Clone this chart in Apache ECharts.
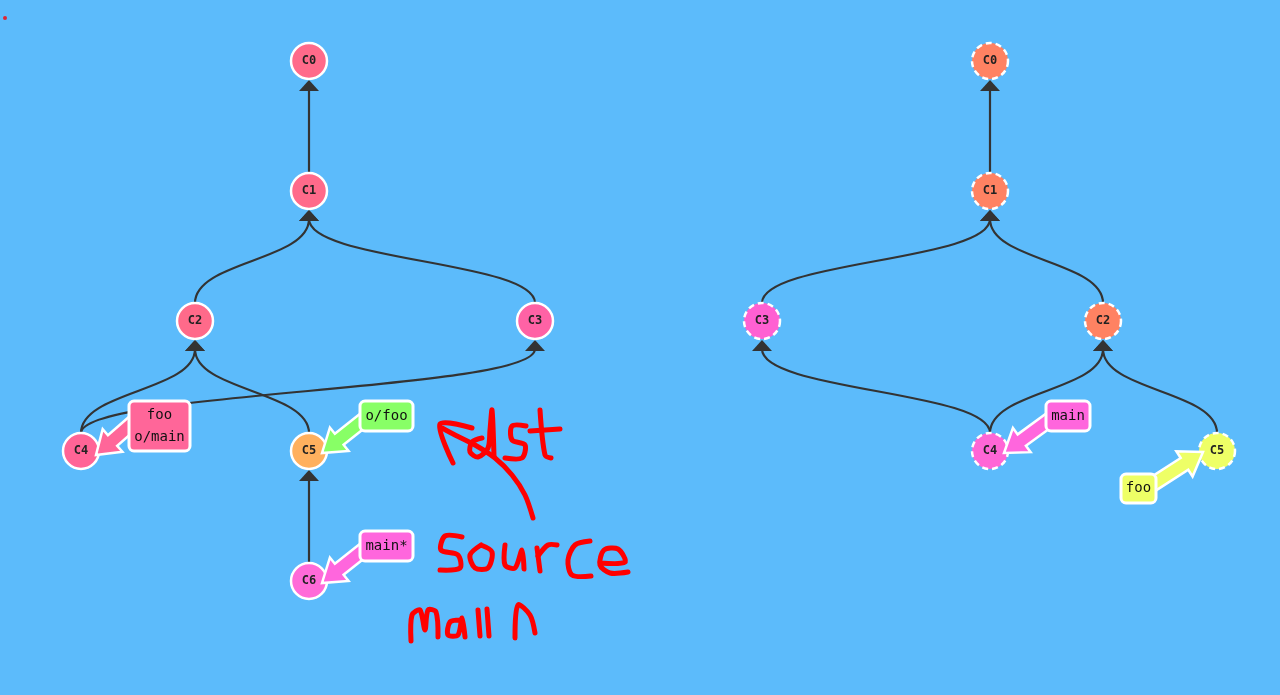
<!DOCTYPE html>
<html lang="en">
<head>
  <meta charset="UTF-8">
  <title>Git tree</title>
  <script src="https://cdn.jsdelivr.net/npm/echarts@6/dist/echarts.min.js"></script>
  <style>
    html, body { margin: 0; padding: 0; background: #5cbbfb; }
    #tree { width: 1280px; height: 695px; }
  </style>
</head>
<body>
  <div id="tree"></div>
</body>
<script>
  // commits: [name, x, y, fill, dashed]
  const commits = [
    ['C0', 309, 61, '#ff6a8a', 0], ['C1', 309, 191, '#ff6a8a', 0],
    ['C2', 195, 321, '#ff6a8a', 0], ['C3', 535, 321, '#ff62a5', 0],
    ['C4', 81, 451, '#ff6496', 0], ['C5', 309, 451, '#ffb05e', 0],
    ['C6', 309, 581, '#ff6ad8', 0],
    ['C0', 990, 61, '#ff8262', 1], ['C1', 990, 191, '#ff8262', 1],
    ['C3', 762, 321, '#ff60d2', 1], ['C2', 1103, 321, '#ff8262', 1],
    ['C4', 990, 451, '#ff66d6', 1], ['C5', 1217, 451, '#eeff66', 1]
  ];
  // parent links: [childX, childY, parentX, parentY]
  const links = [
    [309, 191, 309, 61], [195, 321, 309, 191], [535, 321, 309, 191],
    [81, 451, 195, 321], [81, 451, 535, 321], [309, 451, 195, 321],
    [309, 581, 309, 451],
    [990, 191, 990, 61], [762, 321, 990, 191], [1103, 321, 990, 191],
    [990, 451, 762, 321], [990, 451, 1103, 321], [1217, 451, 1103, 321]
  ];
  // branches: [text, boxX0, boxY0, boxX1, boxY1, fill, arrowFromX, arrowFromY, tipX, tipY]
  const branches = [
    ['foo\no/main', 129, 401, 190, 451, '#ff6699', 136, 420, 96, 455],
    ['o/foo', 360, 401, 413, 431, '#88ff66', 366, 418, 322, 453],
    ['main*', 360, 531, 413, 561, '#ff66dd', 366, 548, 322, 583],
    ['main', 1046, 401, 1090, 431, '#ff66dd', 1052, 418, 1004, 453],
    ['foo', 1121, 474, 1156, 503, '#eeff66', 1150, 486, 1203, 452]
  ];
  // hand drawn red strokes
  const strokes = [
    [[533,518],[525,495],[512,475],[495,458],[475,445],[455,435],[442,428]],
    [[472,428],[440,424],[453,463]],
    [[482,438],[472,442],[470,452],[478,457],[488,448],[490,430],[492,410],[494,456]],
    [[526,426],[512,426],[512,440],[525,445],[522,458],[505,458]],
    [[540,410],[545,455],[551,458]], [[530,431],[560,429]],
    [[462,537],[445,536],[441,550],[458,555],[460,568],[440,570]],
    [[481,545],[470,555],[475,568],[488,568],[492,552],[481,545]],
    [[505,545],[505,565],[515,568],[522,550],[524,569]],
    [[537,548],[540,571]], [[538,556],[548,545],[557,545]],
    [[590,541],[575,545],[568,560],[572,575],[591,576]],
    [[600,563],[625,562],[618,549],[604,550],[600,565],[610,573],[628,572]],
    [[411,641],[412,615],[420,610],[425,630],[428,610],[436,612],[438,637]],
    [[461,620],[450,622],[448,635],[458,635],[462,618],[465,637]],
    [[478,610],[480,636]], [[487,609],[489,636]],
    [[515,638],[518,605],[530,615],[535,633]]
  ];

  const chart = echarts.init(document.getElementById('tree'));
  const P = (api, x, y) => api.coord([x, y]);

  chart.setOption({
    backgroundColor: '#5cbbfb',
    animation: false,
    grid: { left: 0, right: 0, top: 0, bottom: 0 },
    xAxis: { type: 'value', min: 0, max: 1280, show: false },
    yAxis: { type: 'value', min: 0, max: 695, inverse: true, show: false },
    series: [
      {
        type: 'custom',
        data: links,
        renderItem: function (params, api) {
          const c = P(api, api.value(0), api.value(1) - 18);
          const p = P(api, api.value(2), api.value(3) + 28);
          const tip = P(api, api.value(2), api.value(3) + 19);
          const my = (c[1] + p[1]) / 2;
          return {
            type: 'group',
            children: [
              {
                type: 'bezierCurve',
                shape: { x1: c[0], y1: c[1], cpx1: c[0], cpy1: my, cpx2: p[0], cpy2: my, x2: p[0], y2: p[1] },
                style: { stroke: '#333', lineWidth: 2.2, fill: null }
              },
              {
                type: 'polygon',
                shape: { points: [tip, [tip[0] - 10, tip[1] + 11], [tip[0] + 10, tip[1] + 11]] },
                style: { fill: '#333' }
              }
            ]
          };
        }
      },
      {
        type: 'custom',
        data: commits.map(c => [c[1], c[2], c[0], c[3], c[4]]),
        renderItem: function (params, api) {
          const pt = P(api, api.value(0), api.value(1));
          const item = commits[params.dataIndex];
          return {
            type: 'group',
            children: [
              {
                type: 'circle',
                shape: { cx: pt[0], cy: pt[1], r: 18 },
                style: { fill: item[3], stroke: '#fff', lineWidth: 2.5, lineDash: item[4] ? [6, 4] : null }
              },
              {
                type: 'text',
                style: { x: pt[0], y: pt[1], text: item[0], align: 'center', verticalAlign: 'middle',
                  font: 'bold 12px "DejaVu Sans Mono", monospace', fill: '#222' }
              }
            ]
          };
        }
      },
      {
        type: 'custom',
        data: branches.map(b => b.slice(1, 5).concat(b.slice(6))),
        renderItem: function (params, api) {
          const b = branches[params.dataIndex];
          const a = P(api, b[6], b[7]);
          const t = P(api, b[8], b[9]);
          const dx = t[0] - a[0], dy = t[1] - a[1];
          const L = Math.hypot(dx, dy), ux = dx / L, uy = dy / L, nx = -uy, ny = ux;
          const hb = [t[0] - ux * 22, t[1] - uy * 22];
          const pts = [
            [a[0] + nx * 7, a[1] + ny * 7], [hb[0] + nx * 7, hb[1] + ny * 7], [hb[0] + nx * 15, hb[1] + ny * 15],
            t,
            [hb[0] - nx * 15, hb[1] - ny * 15], [hb[0] - nx * 7, hb[1] - ny * 7], [a[0] - nx * 7, a[1] - ny * 7]
          ];
          const p0 = P(api, b[1], b[2]);
          const p1 = P(api, b[3], b[4]);
          return {
            type: 'group',
            children: [
              { type: 'polygon', shape: { points: pts }, style: { fill: b[5], stroke: '#fff', lineWidth: 2.5 } },
              {
                type: 'rect',
                shape: { x: p0[0], y: p0[1], width: p1[0] - p0[0], height: p1[1] - p0[1], r: 5 },
                style: { fill: b[5], stroke: '#fff', lineWidth: 3 }
              },
              {
                type: 'text',
                style: { x: (p0[0] + p1[0]) / 2, y: (p0[1] + p1[1]) / 2, text: b[0], align: 'center',
                  verticalAlign: 'middle', lineHeight: 22, font: '14px "DejaVu Sans Mono", monospace', fill: '#111' }
              }
            ]
          };
        }
      },
      {
        type: 'custom',
        data: strokes.map((s, i) => [s[0][0], s[0][1], i]),
        renderItem: function (params, api) {
          const s = strokes[params.dataIndex];
          return {
            type: 'polyline',
            shape: { points: s.map(p => P(api, p[0], p[1])), smooth: 0.3 },
            style: { stroke: '#ff0000', lineWidth: 5, fill: null, lineCap: 'round', lineJoin: 'round' }
          };
        }
      },
      {
        type: 'scatter',
        data: [[5, 18]],
        symbolSize: 4,
        itemStyle: { color: '#ff0000' }
      }
    ]
  });
</script>
</html>
